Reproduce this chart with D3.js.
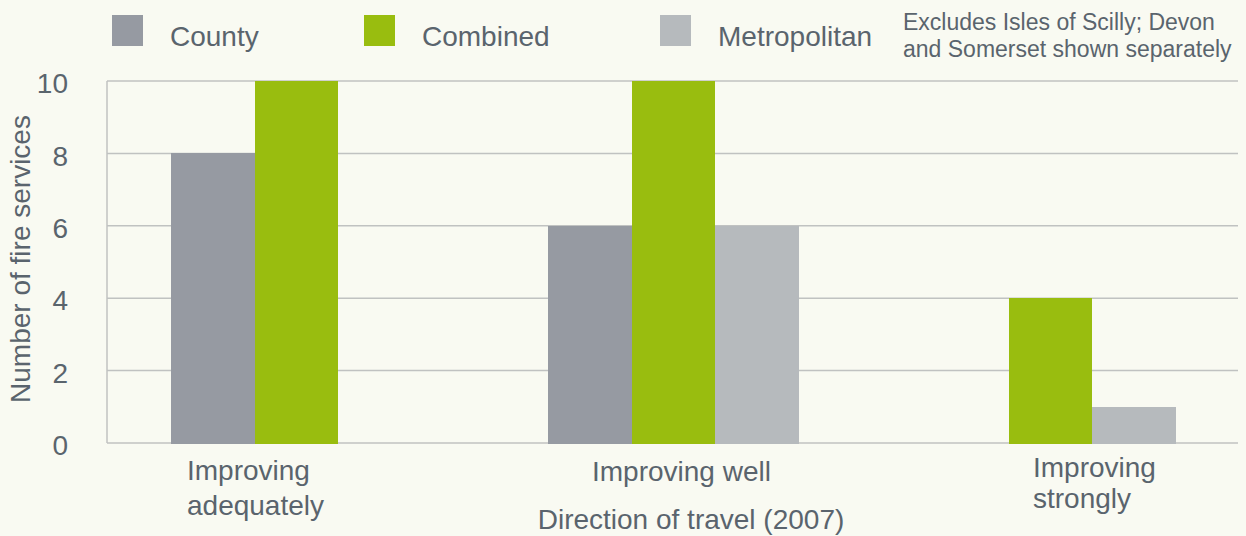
<!DOCTYPE html>
<html>
<head>
<meta charset="utf-8">
<script src="https://cdn.jsdelivr.net/npm/d3@7"></script>
<style>
  html, body { margin: 0; padding: 0; background: #f9faf2; }
  svg { display: block; }
  text { font-family: "Liberation Sans", Arial, sans-serif; fill: #5a646d; }
</style>
</head>
<body>
<div id="chart"></div>
<script>
// Data
let categories = ["Improving adequately", "Improving well", "Improving strongly"];
let categoryLines = [["Improving", "adequately"], ["Improving well"], ["Improving", "strongly"]];
let seriesNames = ["County", "Combined", "Metropolitan"];
let county = [8, 6, 0];
let combined = [10, 10, 4];
let metropolitan = [0, 6, 1];
let yTicks = [0, 2, 4, 6, 8, 10];
let note = ["Excludes Isles of Scilly; Devon", "and Somerset shown separately"];

let colors = ["#969aa2", "#99bd0f", "#b6babd"];

let svgWidth = 1246;
let svgHeight = 536;

let margin = { top: 81, right: 8, bottom: 93, left: 107 };
let width = svgWidth - margin.left - margin.right;
let height = svgHeight - margin.top - margin.bottom;

let svg = d3.select("#chart")
    .append("svg")
    .attr("width", svgWidth)
    .attr("height", svgHeight);

svg.append("rect")
    .attr("width", svgWidth)
    .attr("height", svgHeight)
    .attr("fill", "#f9faf2");

let chartGroup = svg.append("g")
    .attr("transform", `translate(${margin.left}, ${margin.top})`);

// table built from the arrays
let seriesValues = [county, combined, metropolitan];
let rows = categories.map((c, i) => ({
    category: c,
    values: seriesNames.map((s, j) => ({ key: s, value: seriesValues[j][i] }))
}));

// scales
let x0 = d3.scaleBand()
    .domain(categories)
    .range([0, width])
    .padding(0);

let inset = 64;
let x1 = d3.scaleBand()
    .domain(seriesNames)
    .range([inset, x0.bandwidth() - inset + 2]);

let yLinearScale = d3.scaleLinear()
    .domain([0, 10])
    .range([height, 0]);

let color = d3.scaleOrdinal()
    .domain(seriesNames)
    .range(colors);

// gridlines
chartGroup.append("g")
    .selectAll("line")
    .data(yTicks)
    .enter()
    .append("line")
    .attr("x1", 0)
    .attr("x2", width)
    .attr("y1", d => yLinearScale(d))
    .attr("y2", d => yLinearScale(d))
    .attr("stroke", "#c0c2c1")
    .attr("stroke-width", 1.5);

// left axis line
chartGroup.append("line")
    .attr("x1", 0)
    .attr("x2", 0)
    .attr("y1", yLinearScale(10))
    .attr("y2", yLinearScale(0))
    .attr("stroke", "#c0c2c1")
    .attr("stroke-width", 1.5);

// y tick labels via axis
let leftAxis = d3.axisLeft(yLinearScale)
    .tickValues(yTicks)
    .tickSize(0)
    .tickPadding(39);

let yAxis = chartGroup.append("g")
    .call(leftAxis);
yAxis.select(".domain").remove();
yAxis.selectAll("text")
    .attr("font-size", "28px")
    .attr("font-family", null)
    .attr("dy", "0.42em");

// bars
let groups = chartGroup.selectAll(".group")
    .data(rows)
    .enter()
    .append("g")
    .attr("class", "group")
    .attr("transform", d => `translate(${x0(d.category)}, 0)`);

groups.selectAll("rect")
    .data(d => d.values.filter(v => v.value > 0))
    .enter()
    .append("rect")
    .attr("x", d => x1(d.key))
    .attr("width", x1.bandwidth())
    .attr("y", d => yLinearScale(d.value))
    .attr("height", d => yLinearScale(0) - yLinearScale(d.value) + 1)
    .attr("shape-rendering", "crispEdges")
    .attr("fill", d => color(d.key));

// category labels (left aligned blocks)
let labelDx = [80, 108, 172];
let labelY = [480, 481, 477];
let labelLineGap = [35, 0, 31];

categoryLines.forEach(function (lines, i) {
    let t = svg.append("text")
        .attr("font-size", "28px")
        .attr("x", margin.left + x0(categories[i]) + labelDx[i])
        .attr("y", labelY[i]);
    lines.forEach(function (line, k) {
        t.append("tspan")
            .attr("x", margin.left + x0(categories[i]) + labelDx[i])
            .attr("dy", k === 0 ? 0 : labelLineGap[i])
            .text(line);
    });
});

// x axis title
svg.append("text")
    .attr("x", 691)
    .attr("y", 529)
    .attr("text-anchor", "middle")
    .attr("font-size", "28px")
    .text("Direction of travel (2007)");

// y axis title
svg.append("text")
    .attr("transform", "rotate(-90)")
    .attr("x", -259)
    .attr("y", 30)
    .attr("text-anchor", "middle")
    .attr("font-size", "28px")
    .text("Number of fire services");

// legend
let legendX = [112, 364, 660];
let legend = svg.selectAll(".legend")
    .data(seriesNames)
    .enter()
    .append("g")
    .attr("class", "legend")
    .attr("transform", (d, i) => `translate(${legendX[i]}, 15)`);

legend.append("rect")
    .attr("width", 31)
    .attr("height", 31)
    .attr("fill", d => color(d));

legend.append("text")
    .attr("x", 58)
    .attr("y", 31)
    .attr("font-size", "28px")
    .text(d => d);

// note
let noteText = svg.append("text")
    .attr("font-size", "23px");
note.forEach(function (line, k) {
    noteText.append("tspan")
        .attr("x", 903)
        .attr("y", 30 + k * 27)
        .text(line);
});
</script>
</body>
</html>
